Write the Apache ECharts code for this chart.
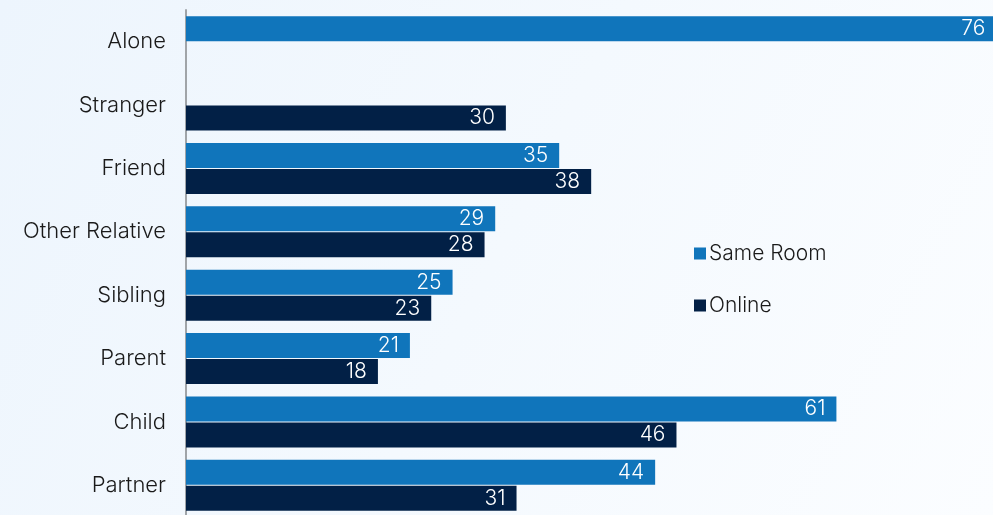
<!DOCTYPE html>
<html>
<head>
<meta charset="utf-8">
<script src="https://cdn.jsdelivr.net/npm/echarts@6/dist/echarts.min.js"></script>
<style>
  html, body { margin: 0; padding: 0; }
  #chart { width: 993px; height: 515px; }
</style>
</head>
<body>
<div id="chart"></div>
<script>
// categories, top to bottom
var categories = ['Alone', 'Stranger', 'Friend', 'Other Relative', 'Sibling', 'Parent', 'Child', 'Partner'];
var sameRoom = [76, null, 35, 29, 25, 21, 61, 44];
var online = [null, 30, 38, 28, 23, 18, 46, 31];

var fontName = 'Inter, "Noto Sans", sans-serif';
var chart = echarts.init(document.getElementById('chart'));

var option = {
    backgroundColor: new echarts.graphic.LinearGradient(0, 0, 1, 1, [
        { offset: 0, color: '#edf5fd' },
        { offset: 1, color: '#fbfdff' }
    ]),
    animation: false,
    grid: { left: 186, top: 10, width: 853, height: 507, outerBoundsMode: 'none', containLabel: false },
    legend: {
        orient: 'vertical',
        left: 689,
        top: 238,
        itemWidth: 12,
        itemHeight: 12,
        itemGap: 31,
        icon: 'rect',
        textStyle: { fontFamily: fontName, fontSize: 21, fontWeight: 300, color: '#1a1a1a', padding: [0, 0, 0, -2] },
        data: ['Same Room', 'Online']
    },
    xAxis: {
        type: 'value',
        min: 0,
        max: 80,
        show: false
    },
    yAxis: {
        type: 'category',
        inverse: true,
        data: categories,
        axisLine: { show: true, lineStyle: { color: '#a0a4a8', width: 2 } },
        axisTick: { show: false },
        axisLabel: { fontFamily: fontName, fontSize: 22, fontWeight: 300, color: '#1a1a1a', margin: 20 }
    },
    series: [
        {
            name: 'Same Room',
            type: 'bar',
            data: sameRoom,
            barWidth: 25,
            barGap: '4%',
            itemStyle: { color: '#1075bb' },
            label: {
                show: true, position: 'insideRight', distance: 11,
                color: '#fff', fontFamily: fontName, fontSize: 21, fontWeight: 300
            }
        },
        {
            name: 'Online',
            type: 'bar',
            data: online,
            barWidth: 25,
            itemStyle: { color: '#022046' },
            label: {
                show: true, position: 'insideRight', distance: 11,
                color: '#fff', fontFamily: fontName, fontSize: 21, fontWeight: 300
            }
        }
    ]
};
chart.setOption(option);
</script>
</body>
</html>
